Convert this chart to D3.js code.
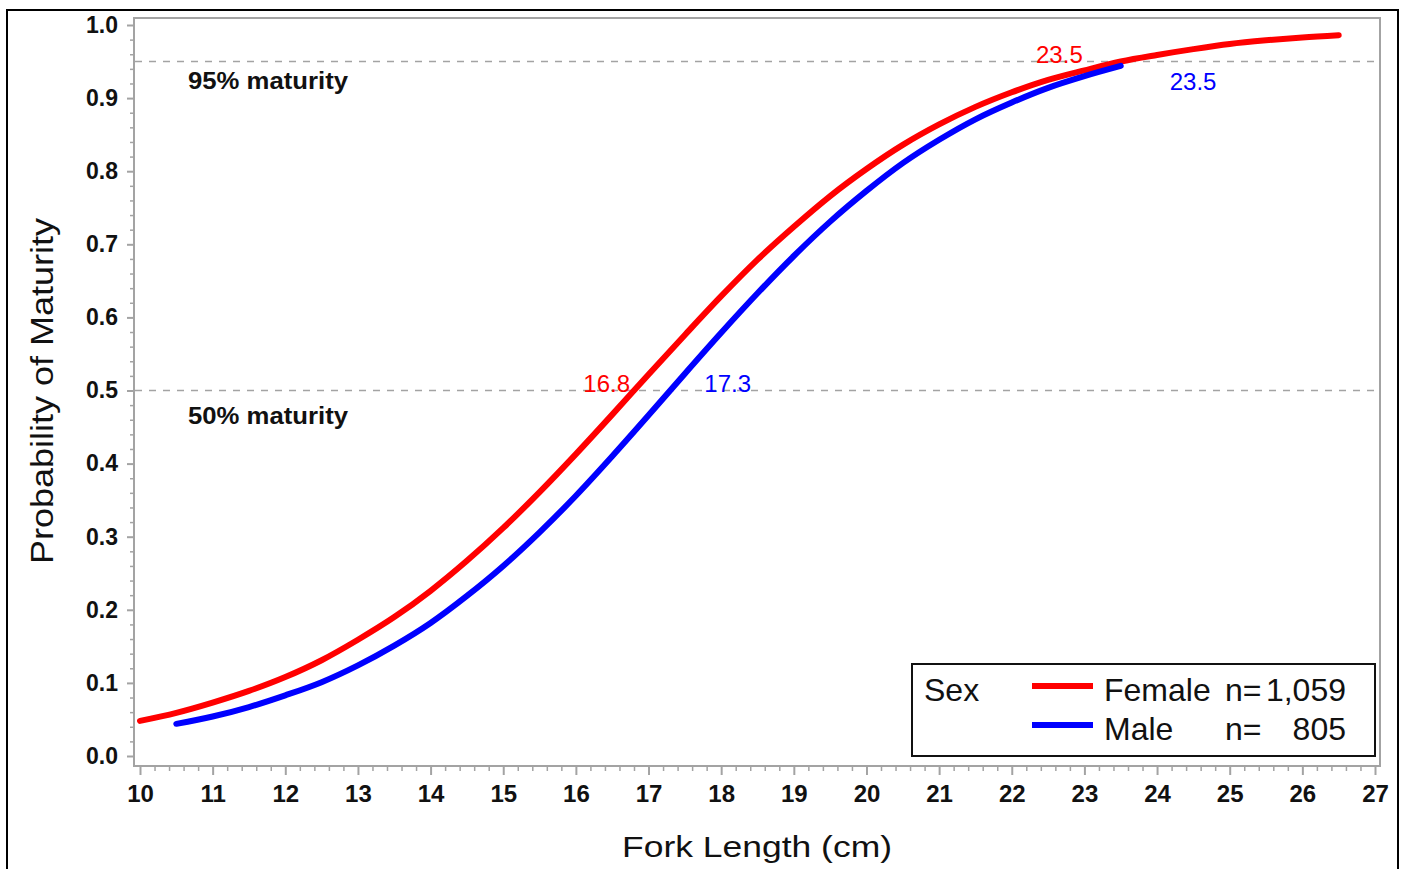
<!DOCTYPE html>
<html>
<head>
<meta charset="utf-8">
<script src="https://cdn.jsdelivr.net/npm/d3@7"></script>
<style>
  html, body { margin: 0; padding: 0; background: #fff; }
  svg { display: block; }
  text { font-family: "Liberation Sans", Arial, sans-serif; }
</style>
</head>
<body>
<svg id="chart" width="1404" height="869"></svg>
<script>
// ---------------- data ----------------
const femaleLength = [10,10.5,11,11.5,12,12.5,13,13.5,14,14.5,15,15.5,16,16.5,17,17.5,18,18.5,19,19.5,20,20.5,21,21.5,22,22.5,23,23.5,24,24.5,25,25.5,26,26.5];
const femaleProb   = [0.048,0.059,0.073,0.089,0.108,0.131,0.159,0.190,0.226,0.267,0.312,0.361,0.413,0.467,0.522,0.576,0.629,0.679,0.724,0.766,0.803,0.836,0.864,0.888,0.908,0.925,0.938,0.950,0.959,0.967,0.974,0.979,0.983,0.986];
const maleLength   = [10.5,11,11.5,12,12.5,13,13.5,14,14.5,15,15.5,16,16.5,17,17.5,18,18.5,19,19.5,20,20.5,21,21.5,22,22.5,23,23.5];
const maleProb     = [0.044,0.054,0.067,0.083,0.101,0.124,0.151,0.182,0.219,0.260,0.306,0.356,0.410,0.466,0.523,0.579,0.633,0.684,0.731,0.773,0.811,0.843,0.871,0.894,0.914,0.930,0.944];

const seriesNames  = ["Female", "Male"];
const seriesN      = ["1,059", "805"];
const seriesColors = ["#ff0000", "#0000ff"];

const refLevels    = [0.95, 0.5];
const refLabels    = ["95% maturity", "50% maturity"];
const femaleMarks  = [16.8, 23.5];   // lengths at 50% and 95%
const maleMarks    = [17.3, 23.5];
const markProb     = [0.5, 0.95];

const xTickValues  = [10,11,12,13,14,15,16,17,18,19,20,21,22,23,24,25,26,27];
const yTickValues  = [0.0,0.1,0.2,0.3,0.4,0.5,0.6,0.7,0.8,0.9,1.0];
const xLabel = "Fork Length (cm)";
const yLabel = "Probability of Maturity";
const legendTitle = "Sex";

// ---------------- layout ----------------
const svg = d3.select("#chart");
const frame = {left: 134, right: 1380, top: 18, bottom: 766};
const x = d3.scaleLinear().domain([10, 27]).range([140, 1375]);
const y = d3.scaleLinear().domain([0, 1]).range([756, 25]);
const gray = "#a3a3a3";
const ink = "#111";

// outer border
svg.append("rect").attr("x", 7).attr("y", 10).attr("width", 1391).attr("height", 880)
  .attr("fill", "none").attr("stroke", "#000").attr("stroke-width", 2);

// plot frame
svg.append("rect").attr("x", frame.left).attr("y", frame.top)
  .attr("width", frame.right - frame.left).attr("height", frame.bottom - frame.top)
  .attr("fill", "none").attr("stroke", gray).attr("stroke-width", 2);

// x axis
const xMinor = d3.range(10, 27.0001, 0.2).filter(v => Math.abs(v - Math.round(v)) > 1e-6);
svg.append("g").attr("transform", `translate(0,${frame.bottom})`)
  .call(d3.axisBottom(x).tickValues(xMinor).tickSize(5).tickFormat(""))
  .call(g => g.select(".domain").remove())
  .call(g => g.selectAll("line").attr("stroke", gray).attr("stroke-width", 1.5));
svg.append("g").attr("transform", `translate(0,${frame.bottom})`)
  .call(d3.axisBottom(x).tickValues(xTickValues).tickSize(9).tickPadding(10).tickFormat(d3.format("d")))
  .call(g => g.select(".domain").remove())
  .call(g => g.selectAll("line").attr("stroke", gray).attr("stroke-width", 2))
  .call(g => g.selectAll("text").attr("fill", ink).attr("font-size", 24).attr("font-weight", "bold")
        .attr("font-family", '"Liberation Sans", Arial, sans-serif'));

// y axis
const yMinor = d3.range(0, 1.0001, 0.02).filter(v => Math.abs(v * 10 - Math.round(v * 10)) > 1e-6);
svg.append("g").attr("transform", `translate(${frame.left},0)`)
  .call(d3.axisLeft(y).tickValues(yMinor).tickSize(4).tickFormat(""))
  .call(g => g.select(".domain").remove())
  .call(g => g.selectAll("line").attr("stroke", gray).attr("stroke-width", 1.5));
svg.append("g").attr("transform", `translate(${frame.left},0)`)
  .call(d3.axisLeft(y).tickValues(yTickValues).tickSize(7).tickPadding(9).tickFormat(d3.format(".1f")))
  .call(g => g.select(".domain").remove())
  .call(g => g.selectAll("line").attr("stroke", gray).attr("stroke-width", 2))
  .call(g => g.selectAll("text").attr("fill", ink).attr("font-size", 23).attr("font-weight", "bold")
        .attr("font-family", '"Liberation Sans", Arial, sans-serif'));

// reference lines
svg.selectAll(".ref").data(refLevels).enter().append("line")
  .attr("x1", frame.left + 1).attr("x2", frame.right - 1)
  .attr("y1", d => y(d)).attr("y2", d => y(d))
  .attr("stroke", gray).attr("stroke-width", 1.5).attr("stroke-dasharray", "7,7");
const refDy = [27, 33];
svg.selectAll(".reflab").data(refLevels).enter().append("text")
  .attr("x", 188).attr("y", (d, i) => y(d) + refDy[i])
  .attr("font-size", 23).attr("font-weight", "bold").attr("fill", ink)
  .attr("textLength", 160).attr("lengthAdjust", "spacingAndGlyphs")
  .text((d, i) => refLabels[i]);

// curves
const line = d3.line().x(d => x(d[0])).y(d => y(d[1])).curve(d3.curveMonotoneX);
const female = femaleLength.map((v, i) => [v, femaleProb[i]]);
const male = maleLength.map((v, i) => [v, maleProb[i]]);
[female, male].forEach((data, i) => {
  svg.append("path").datum(data).attr("d", line)
    .attr("fill", "none").attr("stroke", seriesColors[i]).attr("stroke-width", 6)
    .attr("stroke-linecap", "round").attr("stroke-linejoin", "round");
});

// value labels
const fOff = [{dx: -4, dy: 1, anchor: "end"}, {dx: -38, dy: 1, anchor: "end"}];
const mOff = [{dx: 34, dy: 1, anchor: "start"}, {dx: 49, dy: 28, anchor: "start"}];
femaleMarks.forEach((v, i) => {
  svg.append("text").attr("x", x(v) + fOff[i].dx).attr("y", y(markProb[i]) + fOff[i].dy)
    .attr("text-anchor", fOff[i].anchor).attr("font-size", 24).attr("fill", seriesColors[0])
    .text(d3.format(".1f")(v));
});
maleMarks.forEach((v, i) => {
  svg.append("text").attr("x", x(v) + mOff[i].dx).attr("y", y(markProb[i]) + mOff[i].dy)
    .attr("text-anchor", mOff[i].anchor).attr("font-size", 24).attr("fill", seriesColors[1])
    .text(d3.format(".1f")(v));
});

// axis titles
svg.append("text").attr("x", 757).attr("y", 857).attr("text-anchor", "middle")
  .attr("font-size", 30).attr("fill", ink)
  .attr("textLength", 270).attr("lengthAdjust", "spacingAndGlyphs").text(xLabel);
svg.append("text").attr("transform", "translate(53,391) rotate(-90)").attr("text-anchor", "middle")
  .attr("font-size", 32).attr("fill", ink)
  .attr("textLength", 346).attr("lengthAdjust", "spacingAndGlyphs").text(yLabel);

// legend
const lg = svg.append("g");
lg.append("rect").attr("x", 912).attr("y", 664).attr("width", 463).attr("height", 92)
  .attr("fill", "#fff").attr("stroke", ink).attr("stroke-width", 2);
lg.append("text").attr("x", 924).attr("y", 701).attr("font-size", 32).attr("fill", ink).text(legendTitle);
seriesNames.forEach((name, i) => {
  const yy = 686 + i * 39;
  lg.append("line").attr("x1", 1032).attr("x2", 1093).attr("y1", yy).attr("y2", yy)
    .attr("stroke", seriesColors[i]).attr("stroke-width", 6);
  lg.append("text").attr("x", 1104).attr("y", yy + 15).attr("font-size", 32).attr("fill", ink).text(name);
  lg.append("text").attr("x", 1225).attr("y", yy + 15).attr("font-size", 32).attr("fill", ink).text("n=");
  lg.append("text").attr("x", 1346).attr("y", yy + 15).attr("text-anchor", "end")
    .attr("font-size", 32).attr("fill", ink).text(seriesN[i]);
});
</script>
</body>
</html>
